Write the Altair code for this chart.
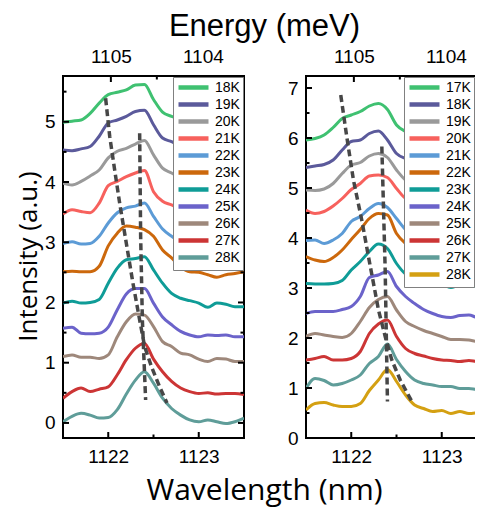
import altair as alt
import pandas as pd

# ---------------- data ----------------
wavelength = [1121.5, 1121.6, 1121.7, 1121.8, 1121.9, 1122.0, 1122.1, 1122.2, 1122.3, 1122.4,
              1122.5, 1122.6, 1122.7, 1122.8, 1122.9, 1123.0, 1123.1, 1123.2, 1123.3, 1123.4, 1123.5]

left_labels = ["18K", "19K", "20K", "21K", "22K", "23K", "24K", "25K", "26K", "27K", "28K"]
left_colors = ["#3fc171", "#5b5a9b", "#9a9a9a", "#f7615d", "#5c9bd6", "#cc680c",
               "#0f9c97", "#6b63ca", "#9e887b", "#cc3535", "#5f9d99"]

L18 = [4.99, 5.01, 5.03, 5.14, 5.31, 5.45, 5.49, 5.53, 5.61, 5.62, 5.37, 5.16, 5.09, 5.04, 5.03, 5.02, 5.02, 5.02, 5.02, 5.02, 5.02]
L19 = [4.53, 4.52, 4.55, 4.59, 4.76, 4.98, 5.03, 5.09, 5.17, 5.19, 4.95, 4.73, 4.67, 4.60, 4.57, 4.55, 4.54, 4.53, 4.53, 4.52, 4.52]
L20 = [3.98, 3.95, 4.01, 4.10, 4.20, 4.40, 4.51, 4.56, 4.63, 4.69, 4.45, 4.23, 4.15, 4.06, 4.02, 4.00, 3.99, 3.98, 3.98, 3.98, 3.98]
L21 = [3.47, 3.54, 3.51, 3.49, 3.65, 3.94, 4.01, 4.09, 4.15, 4.19, 3.84, 3.68, 3.62, 3.54, 3.50, 3.48, 3.47, 3.47, 3.47, 3.47, 3.47]
L22 = [2.98, 3.01, 2.97, 2.98, 3.10, 3.32, 3.49, 3.57, 3.60, 3.65, 3.43, 3.22, 3.10, 3.01, 2.99, 2.98, 2.97, 2.97, 2.97, 2.97, 2.97]
L23 = [2.51, 2.52, 2.51, 2.51, 2.60, 2.94, 3.15, 3.27, 3.25, 3.21, 3.10, 2.87, 2.74, 2.59, 2.51, 2.50, 2.46, 2.42, 2.46, 2.48, 2.51]
L24 = [1.99, 2.02, 1.99, 2.00, 2.05, 2.32, 2.57, 2.71, 2.73, 2.76, 2.54, 2.32, 2.15, 2.07, 2.03, 1.99, 1.92, 1.99, 1.97, 1.93, 1.93]
L25 = [1.57, 1.59, 1.49, 1.48, 1.49, 1.59, 1.88, 2.14, 2.23, 2.23, 1.99, 1.76, 1.63, 1.52, 1.46, 1.43, 1.46, 1.45, 1.46, 1.43, 1.43]
L26 = [1.10, 1.13, 1.09, 1.09, 1.07, 1.13, 1.43, 1.68, 1.81, 1.79, 1.60, 1.35, 1.27, 1.16, 1.13, 1.06, 1.02, 1.07, 1.06, 1.02, 1.02]
L27 = [0.41, 0.52, 0.58, 0.52, 0.56, 0.60, 0.80, 1.05, 1.24, 1.32, 1.06, 0.85, 0.69, 0.58, 0.52, 0.49, 0.50, 0.48, 0.49, 0.49, 0.47]
L28 = [0.02, 0.11, 0.16, 0.13, 0.08, 0.09, 0.22, 0.48, 0.71, 0.85, 0.66, 0.41, 0.24, 0.13, 0.05, 0.02, 0.05, 0.02, -0.01, 0.02, 0.08]

right_labels = ["17K", "18K", "19K", "20K", "21K", "22K", "23K", "24K", "25K", "26K", "27K", "28K"]
right_colors = ["#3fc171", "#5b5a9b", "#9a9a9a", "#f7615d", "#5c9bd6", "#cc680c",
                "#0f9c97", "#6b63ca", "#9e887b", "#cc3535", "#5f9d99", "#d4a012"]

R17 = [5.96, 5.99, 6.06, 6.21, 6.39, 6.46, 6.53, 6.64, 6.69, 6.57, 6.26, 6.13, 6.06, 5.99, 5.97, 5.96, 5.96, 5.96, 5.96, 5.96, 5.96]
R18 = [5.41, 5.44, 5.47, 5.56, 5.76, 5.93, 5.96, 6.09, 6.14, 5.96, 5.69, 5.59, 5.53, 5.46, 5.43, 5.41, 5.40, 5.40, 5.40, 5.40, 5.40]
R19 = [4.96, 4.95, 4.98, 5.09, 5.29, 5.46, 5.51, 5.64, 5.69, 5.61, 5.36, 5.16, 5.08, 5.03, 5.00, 4.98, 4.97, 4.97, 4.97, 4.97, 4.97]
R20 = [4.56, 4.49, 4.53, 4.64, 4.79, 4.97, 5.09, 5.24, 5.26, 5.21, 4.99, 4.79, 4.73, 4.66, 4.62, 4.60, 4.59, 4.58, 4.58, 4.58, 4.58]
R21 = [3.95, 3.96, 3.89, 3.96, 4.09, 4.33, 4.43, 4.59, 4.69, 4.61, 4.39, 4.17, 4.06, 3.99, 3.96, 3.95, 3.94, 3.94, 3.94, 3.94, 3.94]
R22 = [3.63, 3.56, 3.53, 3.61, 3.76, 3.97, 4.17, 4.39, 4.49, 4.46, 4.09, 3.89, 3.76, 3.66, 3.62, 3.60, 3.58, 3.57, 3.57, 3.57, 3.57]
R23 = [3.09, 3.08, 3.08, 3.09, 3.15, 3.36, 3.53, 3.73, 3.88, 3.79, 3.49, 3.28, 3.21, 3.16, 3.13, 3.09, 3.01, 3.06, 3.04, 3.03, 3.01]
R24 = [2.49, 2.53, 2.53, 2.53, 2.57, 2.63, 2.83, 3.21, 3.26, 3.33, 3.03, 2.83, 2.69, 2.57, 2.49, 2.43, 2.41, 2.45, 2.46, 2.41, 2.43]
R25 = [2.03, 2.09, 2.06, 2.03, 2.01, 2.09, 2.33, 2.61, 2.77, 2.83, 2.56, 2.33, 2.23, 2.15, 2.09, 2.03, 1.97, 1.97, 1.96, 1.93, 1.93]
R26 = [1.56, 1.59, 1.63, 1.56, 1.56, 1.59, 1.73, 2.09, 2.28, 2.36, 2.03, 1.79, 1.69, 1.64, 1.59, 1.56, 1.55, 1.53, 1.55, 1.53, 1.53]
R27 = [0.99, 1.19, 1.15, 1.06, 1.09, 1.16, 1.26, 1.49, 1.63, 1.88, 1.57, 1.33, 1.16, 1.09, 1.06, 1.03, 1.03, 0.99, 0.99, 0.97, 0.99]
R28 = [0.56, 0.69, 0.71, 0.66, 0.63, 0.63, 0.69, 0.95, 1.16, 1.37, 1.13, 0.86, 0.66, 0.59, 0.53, 0.55, 0.49, 0.53, 0.49, 0.51, 0.53]

# dashed peak-tracking guides
left_g1_wl = [1121.971, 1122.016, 1122.071, 1122.126, 1122.200, 1122.273, 1122.347, 1122.402, 1122.476, 1122.568, 1122.649]
left_g1_I = [5.39, 4.76, 4.20, 3.65, 2.98, 2.32, 1.71, 1.27, 0.94, 0.60, 0.33]
left_g2_wl = [1122.347, 1122.358, 1122.377, 1122.413]
left_g2_I = [4.81, 3.10, 1.71, 0.38]
right_g1_wl = [1121.884, 1121.950, 1122.024, 1122.116, 1122.190, 1122.301, 1122.375, 1122.448, 1122.541, 1122.670]
right_g1_I = [6.86, 6.03, 5.16, 4.36, 3.63, 2.56, 2.03, 1.56, 1.16, 0.73]
right_g2_wl = [1122.338, 1122.375, 1122.400]
right_g2_I = [5.83, 3.36, 0.73]

# axis ticks
wl_major = [1122, 1123]
wl_minor = [1122.5]
energy_major = [1105, 1104]
energy_minor = [1104.5]
left_y_major = [0, 1, 2, 3, 4, 5]
left_y_minor = [0.5, 1.5, 2.5, 3.5, 4.5, 5.5]
right_y_major = [0, 1, 2, 3, 4, 5, 6, 7]
right_y_minor = [0.5, 1.5, 2.5, 3.5, 4.5, 5.5, 6.5]

HC = 1239841.98  # meV*nm
W, H = 181, 362
TICK_FONT = "Liberation Sans"
TITLE_FONT = "Open Sans"


def build_panel(labels, colors, series, ydomain, ymaj, ymin, guides, titles, legend_pos):
    spec = pd.DataFrame([
        {"wl": w, "I": v, "T": lab}
        for lab, vals in zip(labels, series)
        for w, v in zip(wavelength, vals)
    ])
    gdf = pd.DataFrame([
        {"g": gi, "o": k, "wl": w, "I": v}
        for gi, (gw, gv) in enumerate(guides)
        for k, (w, v) in enumerate(zip(gw, gv))
    ])
    xs = alt.Scale(domain=[1121.5, 1123.5], nice=False, zero=False)
    ys = alt.Scale(domain=ydomain, nice=False, zero=False)

    bax = dict(values=wl_major, orient="bottom", tickSize=0, domain=False, grid=False,
               labelFont=TICK_FONT, labelFontSize=19, labelPadding=9, labelColor="black",
               format="d", labelFlush=False)
    yax = dict(values=ymaj, tickSize=0, domain=False, grid=False, labelFont=TICK_FONT,
               labelFontSize=19, labelPadding=8, labelColor="black", format="d")
    tax = dict(orient="top", values=[HC / e for e in energy_major],
               labelExpr=f"format({HC}/datum.value, 'd')", tickSize=0, domain=False,
               grid=False, labelFont=TICK_FONT, labelFontSize=19, labelPadding=10,
               labelColor="black", labelFlush=False)
    if titles:
        bax.update(title="Wavelength (nm)", titleX=201, titleY=61, titleAlign="center",
                   titleBaseline="alphabetic", titleFont=TITLE_FONT, titleFontSize=30,
                   titleFontWeight="normal", titleColor="black")
        yax.update(title="Intensity (a.u.)", titleX=-27, titleY=180, titleAngle=270,
                   titleAlign="center", titleBaseline="alphabetic", titleFont=TITLE_FONT,
                   titleFontSize=26, titleFontWeight="normal", titleColor="black")
        tax.update(title="Energy (meV)", titleX=201, titleY=-41, titleAlign="center",
                   titleBaseline="alphabetic", titleFont=TICK_FONT, titleFontSize=31,
                   titleFontWeight="normal", titleColor="black")
    else:
        bax.update(title=None)
        yax.update(title=None)
        tax.update(title=None)

    leg = dict(title=None, padding=3, fillColor="white", strokeColor="#808080",
               labelFont=TICK_FONT, labelFontSize=14, labelColor="black",
               symbolType="M-1,0H5", symbolSize=100, symbolStrokeWidth=4.5,
               labelOffset=24, rowPadding=-2.3, cornerRadius=0)
    if legend_pos is None:
        leg.update(orient="top-right", offset=1)
    else:
        leg.update(orient="none", legendX=legend_pos[0], legendY=legend_pos[1])

    lines = alt.Chart(spec).mark_line(strokeWidth=3, interpolate="monotone", clip=True).encode(
        x=alt.X("wl:Q", scale=xs, axis=alt.Axis(**bax)),
        y=alt.Y("I:Q", scale=ys, axis=alt.Axis(**yax)),
        color=alt.Color("T:N", sort=labels,
                        scale=alt.Scale(domain=labels, range=colors),
                        legend=alt.Legend(**leg)),
    )

    guide = alt.Chart(gdf).mark_line(color="#474747", strokeWidth=3.5, strokeDash=[7, 4],
                                     clip=True).encode(
        x=alt.X("wl:Q", scale=xs, axis=None),
        y=alt.Y("I:Q", scale=ys, axis=None),
        detail="g:N",
        order="o:Q",
    )

    def xticks(vals, length):
        return alt.Chart(pd.DataFrame({"v": vals})).mark_rule(color="black", strokeWidth=2).encode(
            x=alt.X("v:Q", scale=xs, axis=None), y=alt.value(H), y2=alt.value(H - length))

    def eticks(vals, length, axis):
        return alt.Chart(pd.DataFrame({"E": vals})).transform_calculate(
            wl=f"{HC}/datum.E").mark_rule(color="black", strokeWidth=2).encode(
            x=alt.X("wl:Q", scale=xs, axis=axis), y=alt.value(0), y2=alt.value(length))

    def yticks(vals, length, right=False):
        x0, x1 = (W, W - length) if right else (0, length)
        return alt.Chart(pd.DataFrame({"v": vals})).mark_rule(color="black", strokeWidth=2).encode(
            y=alt.Y("v:Q", scale=ys, axis=None), x=alt.value(x0), x2=alt.value(x1))

    layers = [lines, guide,
              xticks(wl_major, 6), xticks(wl_minor, 3.5),
              eticks(energy_major, 6, alt.Axis(**tax)), eticks(energy_minor, 3.5, None),
              yticks(ymaj, 6), yticks(ymin, 3.5),
              yticks(ymaj, 6, True), yticks(ymin, 3.5, True)]

    return alt.layer(*layers).resolve_axis(x="independent", y="independent").properties(
        width=W, height=H)


left = build_panel(left_labels, left_colors,
                   [L18, L19, L20, L21, L22, L23, L24, L25, L26, L27, L28],
                   [-0.25, 5.76], left_y_major, left_y_minor,
                   [(left_g1_wl, left_g1_I), (left_g2_wl, left_g2_I)], True, None)
right = build_panel(right_labels, right_colors,
                    [R17, R18, R19, R20, R21, R22, R23, R24, R25, R26, R27, R28],
                    [0, 7.24], right_y_major, right_y_minor,
                    [(right_g1_wl, right_g1_I), (right_g2_wl, right_g2_I)], False, (98, 1))

# svg kept at 467 px wide (the page's inner width) so that it is not shrunk
chart = alt.hconcat(left, right, spacing=62, bounds="flush").resolve_scale(
    color="independent").properties(
    autosize=alt.AutoSizeParams(type="none"),
    padding={"left": 55, "top": 68, "right": 412, "bottom": 432},
    background="white").configure_view(stroke="black", strokeWidth=2)

chart.save("out.html", embed_options={"renderer": "svg", "actions": False})
